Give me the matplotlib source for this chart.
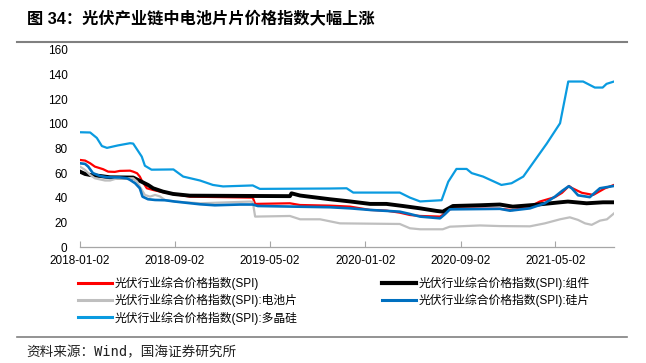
import matplotlib
matplotlib.use('Agg')
import matplotlib.pyplot as plt
import pandas as pd
from matplotlib.lines import Line2D

plt.rcParams['font.family'] = ['Liberation Sans', 'Noto Sans CJK SC']

# 光伏行业综合价格指数(SPI)
spi_dates = ['2018-01-02', '2018-01-15', '2018-01-28', '2018-02-09', '2018-03-02', '2018-03-15',
             '2018-04-01', '2018-04-14', '2018-05-10', '2018-05-18', '2018-05-28', '2018-06-04',
             '2018-06-09', '2018-06-22', '2018-07-08', '2018-07-26', '2018-08-28', '2018-10-10',
             '2019-03-20', '2019-03-26', '2019-06-23', '2019-07-19', '2019-10-03', '2019-11-24',
             '2020-01-14', '2020-02-25', '2020-03-30', '2020-04-25', '2020-05-21', '2020-07-11',
             '2020-07-24', '2020-08-05', '2020-08-18', '2020-12-11', '2021-01-13', '2021-02-26',
             '2021-03-23', '2021-05-01', '2021-05-19', '2021-06-06', '2021-06-13', '2021-06-29',
             '2021-07-09', '2021-08-07', '2021-09-06', '2021-09-29']
spi_vals = [70.7, 70.2, 68.0, 65.3, 63.2, 61.2,
            61.0, 61.8, 62.0, 61.2, 59.9, 57.2,
            54.0, 47.7, 46.3, 45.0, 43.1, 40.9,
            40.1, 35.0, 35.5, 34.1, 33.6, 32.8,
            30.1, 29.5, 27.9, 26.0, 25.2, 24.7,
            27.3, 30.6, 31.4, 31.0, 30.0, 32.8,
            36.9, 40.5, 44.0, 49.6, 48.0, 45.5,
            44.0, 42.3, 47.7, 50.4]

# 组件
module_dates = ['2018-01-02', '2018-01-15', '2018-01-28', '2018-02-22', '2018-03-20', '2018-05-18',
                '2018-06-08', '2018-06-25', '2018-07-08', '2018-08-02', '2018-08-28', '2018-10-10',
                '2019-06-23', '2019-06-27', '2019-07-19', '2019-10-03', '2019-11-24', '2020-01-14',
                '2020-02-25', '2020-04-07', '2020-05-21', '2020-07-02', '2020-07-18', '2020-08-13',
                '2020-10-21', '2020-12-11', '2021-01-13', '2021-03-06', '2021-05-14', '2021-06-03',
                '2021-07-21', '2021-09-01', '2021-09-29']
module_vals = [61.2, 59.3, 58.5, 57.7, 56.6, 56.4,
               53.1, 50.4, 47.7, 45.0, 43.1, 41.7,
               41.3, 43.6, 41.8, 38.8, 37.0, 35.0,
               35.0, 33.3, 31.4, 29.3, 28.7, 33.3,
               33.9, 34.5, 32.8, 34.1, 36.3, 36.9,
               35.5, 36.3, 36.3]

# 电池片
cell_dates = ['2018-01-02', '2018-01-15', '2018-01-28', '2018-02-09', '2018-03-07', '2018-03-20',
              '2018-04-07', '2018-05-18', '2018-05-28', '2018-06-04', '2018-06-17', '2018-06-30',
              '2018-07-13', '2018-07-26', '2018-08-07', '2018-09-02', '2018-11-05', '2019-03-13',
              '2019-03-20', '2019-03-26', '2019-06-23', '2019-07-19', '2019-09-08', '2019-10-29',
              '2020-03-30', '2020-04-25', '2020-05-21', '2020-07-18', '2020-08-05', '2020-10-21',
              '2020-12-11', '2021-02-26', '2021-04-05', '2021-05-14', '2021-06-08', '2021-06-29',
              '2021-07-17', '2021-08-03', '2021-08-24', '2021-09-11', '2021-09-29']
cell_vals = [65.3, 62.6, 58.5, 55.8, 54.0, 54.0,
             55.8, 55.8, 53.1, 49.0, 42.3, 40.9,
             42.3, 41.0, 38.2, 36.9, 35.5, 36.9,
             36.5, 24.7, 25.2, 22.5, 22.5, 19.2,
             18.7, 15.2, 14.4, 14.4, 16.5, 17.5,
             17.0, 16.8, 19.2, 22.5, 24.1, 22.0,
             19.2, 18.0, 21.4, 22.5, 27.3]

# 硅片
wafer_dates = ['2018-01-02', '2018-01-15', '2018-01-23', '2018-02-04', '2018-02-22', '2018-03-12',
               '2018-04-14', '2018-05-02', '2018-05-10', '2018-05-23', '2018-06-04', '2018-06-11',
               '2018-06-25', '2018-07-13', '2018-08-07', '2018-09-02', '2018-11-05', '2018-12-13',
               '2019-02-15', '2019-03-20', '2019-04-02', '2019-10-03', '2019-11-24', '2020-01-14',
               '2020-03-30', '2020-04-25', '2020-05-21', '2020-07-11', '2020-07-24', '2020-08-05',
               '2020-12-11', '2021-01-06', '2021-02-26', '2021-04-05', '2021-05-01', '2021-05-19',
               '2021-06-05', '2021-06-13', '2021-06-29', '2021-07-29', '2021-08-24', '2021-09-29']
wafer_vals = [68.0, 67.5, 65.3, 60.0, 57.7, 56.6,
              56.5, 55.8, 54.5, 51.8, 47.7, 40.9,
              38.8, 38.2, 38.0, 36.9, 34.7, 33.9,
              34.5, 34.5, 33.3, 32.3, 31.4, 30.1,
              28.7, 26.8, 24.7, 23.3, 26.8, 30.6,
              31.0, 29.5, 31.4, 35.5, 40.9, 45.5,
              49.3, 47.7, 42.0, 40.5, 47.7, 49.6]

# 多晶硅
poly_dates = ['2018-01-02', '2018-01-28', '2018-02-14', '2018-02-27', '2018-03-12', '2018-04-09',
              '2018-05-10', '2018-05-18', '2018-06-09', '2018-06-17', '2018-07-04', '2018-08-29',
              '2018-09-23', '2018-11-05', '2018-12-08', '2019-01-03', '2019-03-20', '2019-04-07',
              '2019-10-03', '2019-11-15', '2019-12-02', '2020-03-30', '2020-04-25', '2020-05-21',
              '2020-07-15', '2020-08-01', '2020-08-22', '2020-09-17', '2020-09-30', '2020-10-29',
              '2020-12-15', '2021-01-10', '2021-02-09', '2021-04-10', '2021-05-14', '2021-06-04',
              '2021-07-12', '2021-08-11', '2021-08-31', '2021-09-10', '2021-09-29']
poly_vals = [93.2, 93.0, 88.6, 82.0, 80.5, 82.5,
             84.3, 84.0, 73.4, 66.0, 62.8, 63.0,
             57.2, 54.0, 50.4, 49.2, 50.0, 47.2,
             47.5, 47.7, 44.2, 44.2, 40.1, 37.0,
             38.0, 53.0, 63.4, 63.4, 60.0, 57.2,
             50.4, 51.8, 57.2, 84.0, 100.5, 134.4,
             134.4, 129.5, 129.5, 132.5, 134.4]

labels = ['光伏行业综合价格指数(SPI)', '光伏行业综合价格指数(SPI):组件',
          '光伏行业综合价格指数(SPI):电池片', '光伏行业综合价格指数(SPI):硅片',
          '光伏行业综合价格指数(SPI):多晶硅']
tick_dates = ['2018-01-02', '2018-09-02', '2019-05-02', '2020-01-02', '2020-09-02', '2021-05-02']

series = [
    (spi_dates, spi_vals, '#FF0000', 1.6),
    (module_dates, module_vals, '#000000', 2.8),
    (cell_dates, cell_vals, '#BFBFBF', 1.6),
    (wafer_dates, wafer_vals, '#0070C0', 1.9),
    (poly_dates, poly_vals, '#0A9BE0', 1.6),
]

fig = plt.figure(figsize=(6.46, 3.63), dpi=100)
ax = fig.add_axes([80 / 646, 1 - 247 / 363, 534 / 646, 197 / 363])

for (d, v, c, lw), lab in zip(series, labels):
    ax.plot(pd.to_datetime(d), v, color=c, lw=lw, label=lab, solid_joinstyle='round')

ax.set_xlim(pd.Timestamp('2018-01-02'), pd.Timestamp('2021-09-29'))
ax.set_ylim(0, 160)
ax.set_yticks(range(0, 161, 20))
ax.set_xticks(pd.to_datetime(tick_dates))
ax.set_xticklabels(tick_dates)
for s in ['left', 'right', 'top']:
    ax.spines[s].set_visible(False)
ax.spines['bottom'].set_color('#A6A6A6')
ax.spines['bottom'].set_linewidth(0.9)
ax.tick_params(axis='y', length=0, pad=9, labelsize=8.5)
ax.tick_params(axis='x', direction='in', length=4, color='#A6A6A6', pad=6, labelsize=8.5)

# legend in two columns, row by row like the original
leg_kw = dict(frameon=False, fontsize=8.5, handlelength=2.9, handletextpad=0.2,
              labelspacing=0.32, borderpad=0, borderaxespad=0, loc='upper left')
legend_lines = [Line2D([], [], color=c, lw=3 if c == '#000000' else 2.2) for (_, _, c, _) in series]
fig.legend([legend_lines[0], legend_lines[2], legend_lines[4]], [labels[0], labels[2], labels[4]],
           bbox_to_anchor=(78 / 646, 1 - 277 / 363), **leg_kw)
fig.legend([legend_lines[1], legend_lines[3]], [labels[1], labels[3]],
           bbox_to_anchor=(382 / 646, 1 - 277 / 363), **leg_kw)

fig.text(27 / 646, 1 - 19 / 363, '图 34：光伏产业链中电池片片价格指数大幅上涨', fontsize=11.7,
         fontweight='bold', va='center', ha='left')
fig.add_artist(Line2D([17 / 646, 627 / 646], [1 - 42 / 363, 1 - 42 / 363], color='#808080', lw=1.5))
fig.add_artist(Line2D([17 / 646, 627 / 646], [1 - 337 / 363, 1 - 337 / 363], color='#808080', lw=1.2))
fig.text(26 / 646, 1 - 352 / 363, '资料来源：Wind，国海证券研究所', fontsize=9.8, va='center', ha='left',
         color='#222222', family=['DejaVu Sans Mono', 'Noto Sans CJK SC'])

fig.savefig('out.png', dpi=100)
